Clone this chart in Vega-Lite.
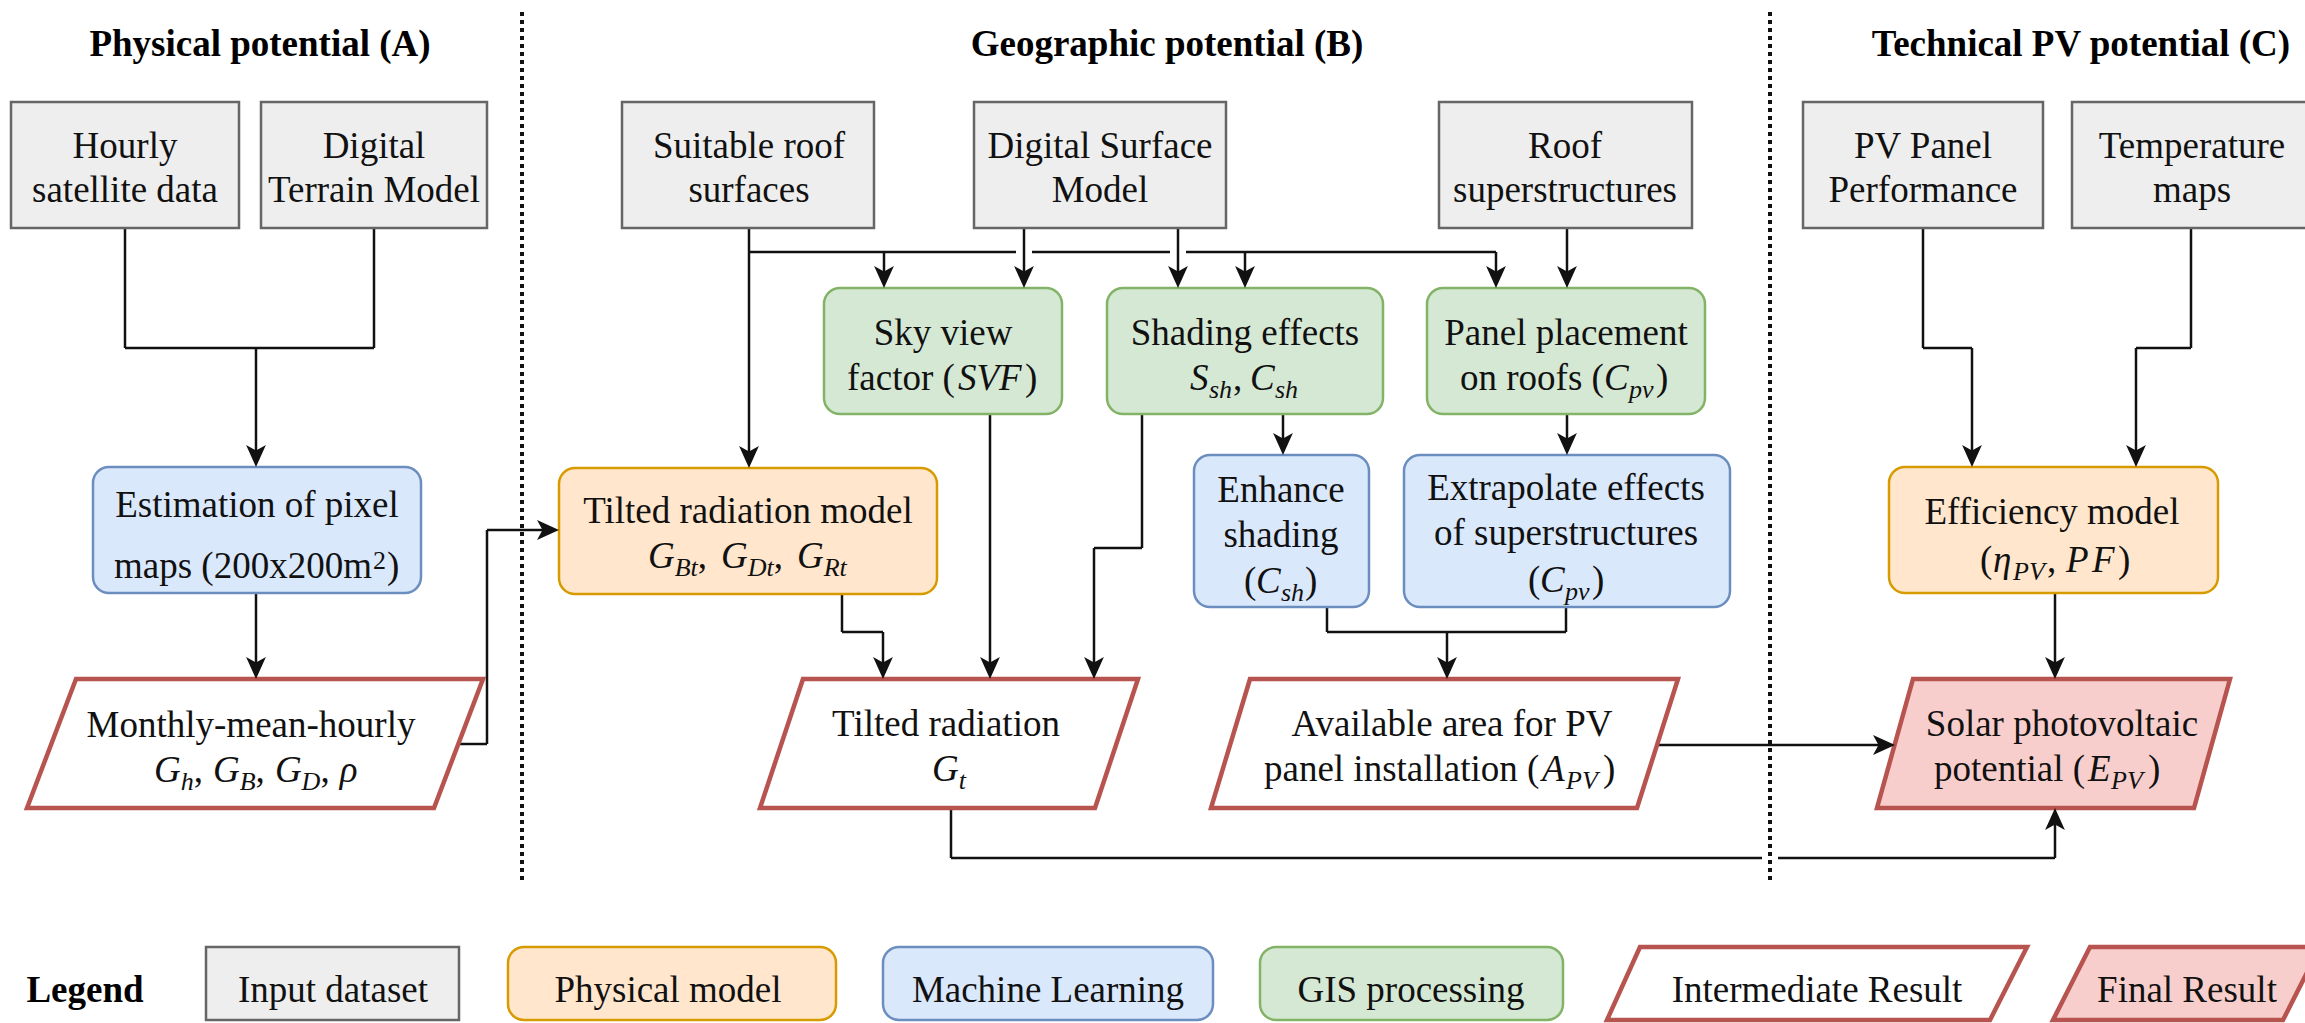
{
  "$schema": "https://vega.github.io/schema/vega-lite/v6.json",
  "width": 2305,
  "height": 1023,
  "autosize": {"type": "fit", "contains": "padding"},
  "padding": 0,
  "background": "white",
  "config": {"view": {"stroke": null}},
  "datasets": {
    "boxes": [
      {"id": "hourly", "type": "Input dataset", "x": 11, "x2": 239, "y": 102, "y2": 228},
      {"id": "dtm", "type": "Input dataset", "x": 261, "x2": 487, "y": 102, "y2": 228},
      {"id": "roofs", "type": "Input dataset", "x": 622, "x2": 874, "y": 102, "y2": 228},
      {"id": "dsm", "type": "Input dataset", "x": 974, "x2": 1226, "y": 102, "y2": 228},
      {"id": "super", "type": "Input dataset", "x": 1439, "x2": 1692, "y": 102, "y2": 228},
      {"id": "pvperf", "type": "Input dataset", "x": 1803, "x2": 2043, "y": 102, "y2": 228},
      {"id": "temp", "type": "Input dataset", "x": 2072, "x2": 2330, "y": 102, "y2": 228},
      {"id": "leg1", "type": "Input dataset", "x": 206, "x2": 459, "y": 947, "y2": 1020},
      {"id": "est", "type": "Machine Learning", "x": 93, "x2": 421, "y": 467, "y2": 593},
      {"id": "tiltmodel", "type": "Physical model", "x": 559, "x2": 937, "y": 468, "y2": 594},
      {"id": "svf", "type": "GIS processing", "x": 824, "x2": 1062, "y": 288, "y2": 414},
      {"id": "shade", "type": "GIS processing", "x": 1107, "x2": 1383, "y": 288, "y2": 414},
      {"id": "panel", "type": "GIS processing", "x": 1427, "x2": 1705, "y": 288, "y2": 414},
      {"id": "enh", "type": "Machine Learning", "x": 1194, "x2": 1369, "y": 455, "y2": 607},
      {"id": "extra", "type": "Machine Learning", "x": 1404, "x2": 1730, "y": 455, "y2": 607},
      {"id": "eff", "type": "Physical model", "x": 1889, "x2": 2218, "y": 467, "y2": 593},
      {"id": "leg2", "type": "Physical model", "x": 508, "x2": 836, "y": 947, "y2": 1020},
      {"id": "leg3", "type": "Machine Learning", "x": 883, "x2": 1213, "y": 947, "y2": 1020},
      {"id": "leg4", "type": "GIS processing", "x": 1260, "x2": 1563, "y": 947, "y2": 1020}
    ],
    "para": [
      {"id": "monthly", "type": "Intermediate Result", "y": 808, "xl": 27, "xr": 434},
      {"id": "monthly", "type": "Intermediate Result", "y": 679, "xl": 76, "xr": 483},
      {"id": "gt", "type": "Intermediate Result", "y": 808, "xl": 760, "xr": 1095},
      {"id": "gt", "type": "Intermediate Result", "y": 679, "xl": 803, "xr": 1138},
      {"id": "apv", "type": "Intermediate Result", "y": 808, "xl": 1211, "xr": 1637},
      {"id": "apv", "type": "Intermediate Result", "y": 679, "xl": 1250, "xr": 1678},
      {"id": "epv", "type": "Final Result", "y": 808, "xl": 1877, "xr": 2194},
      {"id": "epv", "type": "Final Result", "y": 679, "xl": 1913, "xr": 2230},
      {"id": "leg5", "type": "Intermediate Result", "y": 1020, "xl": 1607, "xr": 1990},
      {"id": "leg5", "type": "Intermediate Result", "y": 947, "xl": 1640, "xr": 2027},
      {"id": "leg6", "type": "Final Result", "y": 1020, "xl": 2053, "xr": 2283},
      {"id": "leg6", "type": "Final Result", "y": 947, "xl": 2090, "xr": 2320}
    ],
    "lines": [
      {"x": 125, "y": 228, "x2": 125, "y2": 348},
      {"x": 374, "y": 228, "x2": 374, "y2": 348},
      {"x": 125, "y": 348, "x2": 374, "y2": 348},
      {"x": 256, "y": 348, "x2": 256, "y2": 460},
      {"x": 256, "y": 593, "x2": 256, "y2": 672},
      {"x": 458, "y": 744, "x2": 487, "y2": 744},
      {"x": 487, "y": 744, "x2": 487, "y2": 530},
      {"x": 487, "y": 530, "x2": 552, "y2": 530},
      {"x": 749, "y": 228, "x2": 749, "y2": 460},
      {"x": 749, "y": 252, "x2": 1016, "y2": 252},
      {"x": 1032, "y": 252, "x2": 1170, "y2": 252},
      {"x": 1186, "y": 252, "x2": 1496, "y2": 252},
      {"x": 1024, "y": 228, "x2": 1024, "y2": 282},
      {"x": 1178, "y": 228, "x2": 1178, "y2": 282},
      {"x": 884, "y": 252, "x2": 884, "y2": 282},
      {"x": 1245, "y": 252, "x2": 1245, "y2": 282},
      {"x": 1496, "y": 252, "x2": 1496, "y2": 282},
      {"x": 1567, "y": 228, "x2": 1567, "y2": 282},
      {"x": 990, "y": 414, "x2": 990, "y2": 672},
      {"x": 1142, "y": 414, "x2": 1142, "y2": 548},
      {"x": 1142, "y": 548, "x2": 1094, "y2": 548},
      {"x": 1094, "y": 548, "x2": 1094, "y2": 672},
      {"x": 1283, "y": 414, "x2": 1283, "y2": 450},
      {"x": 1567, "y": 414, "x2": 1567, "y2": 450},
      {"x": 842, "y": 594, "x2": 842, "y2": 632},
      {"x": 842, "y": 632, "x2": 883, "y2": 632},
      {"x": 883, "y": 632, "x2": 883, "y2": 672},
      {"x": 1327, "y": 607, "x2": 1327, "y2": 632},
      {"x": 1566, "y": 607, "x2": 1566, "y2": 632},
      {"x": 1327, "y": 632, "x2": 1566, "y2": 632},
      {"x": 1447, "y": 632, "x2": 1447, "y2": 672},
      {"x": 1658, "y": 745, "x2": 1888, "y2": 745},
      {"x": 951, "y": 808, "x2": 951, "y2": 858},
      {"x": 951, "y": 858, "x2": 1762, "y2": 858},
      {"x": 1778, "y": 858, "x2": 2055, "y2": 858},
      {"x": 2055, "y": 858, "x2": 2055, "y2": 815},
      {"x": 1923, "y": 228, "x2": 1923, "y2": 348},
      {"x": 1923, "y": 348, "x2": 1972, "y2": 348},
      {"x": 1972, "y": 348, "x2": 1972, "y2": 460},
      {"x": 2191, "y": 228, "x2": 2191, "y2": 348},
      {"x": 2191, "y": 348, "x2": 2136, "y2": 348},
      {"x": 2136, "y": 348, "x2": 2136, "y2": 460},
      {"x": 2055, "y": 593, "x2": 2055, "y2": 672}
    ],
    "dividers": [
      {"x": 522, "y": 12, "y2": 882},
      {"x": 1770, "y": 12, "y2": 882}
    ],
    "arrows": [
      {"x": 256, "y": 467, "dir": "down"},
      {"x": 256, "y": 679, "dir": "down"},
      {"x": 749, "y": 468, "dir": "down"},
      {"x": 1024, "y": 288, "dir": "down"},
      {"x": 1178, "y": 288, "dir": "down"},
      {"x": 884, "y": 288, "dir": "down"},
      {"x": 1245, "y": 288, "dir": "down"},
      {"x": 1496, "y": 288, "dir": "down"},
      {"x": 1567, "y": 288, "dir": "down"},
      {"x": 990, "y": 679, "dir": "down"},
      {"x": 1094, "y": 679, "dir": "down"},
      {"x": 1283, "y": 455, "dir": "down"},
      {"x": 1567, "y": 455, "dir": "down"},
      {"x": 883, "y": 679, "dir": "down"},
      {"x": 1447, "y": 679, "dir": "down"},
      {"x": 1972, "y": 467, "dir": "down"},
      {"x": 2136, "y": 467, "dir": "down"},
      {"x": 2055, "y": 679, "dir": "down"},
      {"x": 559, "y": 530, "dir": "right"},
      {"x": 1895, "y": 745, "dir": "right"},
      {"x": 2055, "y": 808, "dir": "up"}
    ],
    "texts": [
      {"t": "Physical potential (A)", "x": 260, "y": 56, "k": "b"},
      {"t": "Geographic potential (B)", "x": 1167, "y": 56, "k": "b"},
      {"t": "Technical PV potential (C)", "x": 2081, "y": 56, "k": "b"},
      {"t": "Legend", "x": 85, "y": 1002, "k": "b"},
      {"t": "Hourly", "x": 125, "y": 158, "k": "c"},
      {"t": "satellite data", "x": 125, "y": 202, "k": "c"},
      {"t": "Digital", "x": 374, "y": 158, "k": "c"},
      {"t": "Terrain Model", "x": 374, "y": 202, "k": "c"},
      {"t": "Estimation of pixel", "x": 257, "y": 517, "k": "c"},
      {"t": "Monthly-mean-hourly", "x": 251, "y": 737, "k": "c"},
      {"t": "Suitable roof", "x": 749, "y": 158, "k": "c"},
      {"t": "surfaces", "x": 749, "y": 202, "k": "c"},
      {"t": "Digital Surface", "x": 1100, "y": 158, "k": "c"},
      {"t": "Model", "x": 1100, "y": 202, "k": "c"},
      {"t": "Roof", "x": 1565, "y": 158, "k": "c"},
      {"t": "superstructures", "x": 1565, "y": 202, "k": "c"},
      {"t": "Sky view", "x": 943, "y": 345, "k": "c"},
      {"t": "Shading effects", "x": 1245, "y": 345, "k": "c"},
      {"t": "Panel placement", "x": 1566, "y": 345, "k": "c"},
      {"t": "Tilted radiation model", "x": 748, "y": 523, "k": "c"},
      {"t": "Enhance", "x": 1281, "y": 502, "k": "c"},
      {"t": "shading", "x": 1281, "y": 547, "k": "c"},
      {"t": "Extrapolate effects", "x": 1566, "y": 500, "k": "c"},
      {"t": "of superstructures", "x": 1566, "y": 545, "k": "c"},
      {"t": "Tilted radiation", "x": 946, "y": 736, "k": "c"},
      {"t": "Available area for PV", "x": 1452, "y": 736, "k": "c"},
      {"t": "Solar photovoltaic", "x": 2062, "y": 736, "k": "c"},
      {"t": "Efficiency model", "x": 2052, "y": 524, "k": "c"},
      {"t": "PV Panel", "x": 1923, "y": 158, "k": "c"},
      {"t": "Performance", "x": 1923, "y": 202, "k": "c"},
      {"t": "Temperature", "x": 2192, "y": 158, "k": "c"},
      {"t": "maps", "x": 2192, "y": 202, "k": "c"},
      {"t": "Input dataset", "x": 333, "y": 1002, "k": "c"},
      {"t": "Physical model", "x": 668, "y": 1002, "k": "c"},
      {"t": "Machine Learning", "x": 1048, "y": 1002, "k": "c"},
      {"t": "GIS processing", "x": 1411, "y": 1002, "k": "c"},
      {"t": "Intermediate Result", "x": 1817, "y": 1002, "k": "c"},
      {"t": "Final Result", "x": 2187, "y": 1002, "k": "c"},
      {"t": "maps (200x200m", "x": 114, "y": 578, "k": "r"},
      {"t": "2", "x": 373, "y": 569, "k": "p"},
      {"t": ")", "x": 387, "y": 578, "k": "r"},
      {"t": "G", "x": 154, "y": 782, "k": "i"},
      {"t": "h", "x": 180.7, "y": 790, "k": "s"},
      {"t": ",", "x": 193.7, "y": 782, "k": "r"},
      {"t": "G", "x": 213, "y": 782, "k": "i"},
      {"t": "B", "x": 239.7, "y": 790, "k": "s"},
      {"t": ",", "x": 255.6, "y": 782, "k": "r"},
      {"t": "G", "x": 274.9, "y": 782, "k": "i"},
      {"t": "D", "x": 301.6, "y": 790, "k": "s"},
      {"t": ",", "x": 320.4, "y": 782, "k": "r"},
      {"t": "ρ", "x": 339.7, "y": 782, "k": "i"},
      {"t": "factor (", "x": 847, "y": 390, "k": "r"},
      {"t": "SVF", "x": 958, "y": 390, "k": "i"},
      {"t": ")", "x": 1025, "y": 390, "k": "r"},
      {"t": "S", "x": 1190, "y": 390, "k": "i"},
      {"t": "sh", "x": 1209, "y": 398, "k": "s"},
      {"t": ",", "x": 1233, "y": 390, "k": "r"},
      {"t": "C", "x": 1250, "y": 390, "k": "i"},
      {"t": "sh", "x": 1275, "y": 398, "k": "s"},
      {"t": "on roofs (", "x": 1460, "y": 390, "k": "r"},
      {"t": "C", "x": 1604, "y": 390, "k": "i"},
      {"t": "pv", "x": 1629, "y": 398, "k": "s"},
      {"t": ")", "x": 1656, "y": 390, "k": "r"},
      {"t": "(", "x": 1244, "y": 593, "k": "r"},
      {"t": "C", "x": 1256, "y": 593, "k": "i"},
      {"t": "sh", "x": 1281, "y": 601, "k": "s"},
      {"t": ")", "x": 1305, "y": 593, "k": "r"},
      {"t": "(", "x": 1528, "y": 592, "k": "r"},
      {"t": "C", "x": 1540, "y": 592, "k": "i"},
      {"t": "pv", "x": 1565, "y": 600, "k": "s"},
      {"t": ")", "x": 1592, "y": 592, "k": "r"},
      {"t": "G", "x": 648, "y": 568, "k": "i"},
      {"t": "Bt", "x": 674.7, "y": 576, "k": "s"},
      {"t": ",", "x": 697.8, "y": 568, "k": "r"},
      {"t": "G", "x": 721, "y": 568, "k": "i"},
      {"t": "Dt", "x": 747.7, "y": 576, "k": "s"},
      {"t": ",", "x": 773.7, "y": 568, "k": "r"},
      {"t": "G", "x": 797, "y": 568, "k": "i"},
      {"t": "Rt", "x": 823.7, "y": 576, "k": "s"},
      {"t": "G", "x": 932, "y": 781, "k": "i"},
      {"t": "t", "x": 958.7, "y": 789, "k": "s"},
      {"t": "panel installation (", "x": 1264, "y": 781, "k": "r"},
      {"t": "A", "x": 1542, "y": 781, "k": "i"},
      {"t": "PV", "x": 1566, "y": 789, "k": "s"},
      {"t": ")", "x": 1603, "y": 781, "k": "r"},
      {"t": "potential (", "x": 1934, "y": 781, "k": "r"},
      {"t": "E", "x": 2088, "y": 781, "k": "i"},
      {"t": "PV", "x": 2111, "y": 789, "k": "s"},
      {"t": ")", "x": 2148, "y": 781, "k": "r"},
      {"t": "(", "x": 1980, "y": 572, "k": "r"},
      {"t": "η", "x": 1993, "y": 572, "k": "i"},
      {"t": "PV", "x": 2013, "y": 580, "k": "s"},
      {"t": ",", "x": 2047, "y": 572, "k": "r"},
      {"t": "P", "x": 2066, "y": 572, "k": "i"},
      {"t": "F", "x": 2092, "y": 572, "k": "i"},
      {"t": ")", "x": 2118, "y": 572, "k": "r"}
    ]
  },
  "layer": [
    {
      "data": {"name": "dividers"},
      "mark": {"type": "rule", "color": "#111111", "strokeWidth": 4, "strokeDash": [4, 4]},
      "encoding": {
        "x": {"field": "x", "type": "quantitative", "scale": {"domain": [0, 2305], "nice": false, "zero": false}, "axis": null},
        "y": {"field": "y", "type": "quantitative", "scale": {"domain": [0, 1023], "reverse": true, "nice": false, "zero": false}, "axis": null},
        "y2": {"field": "y2"}
      }
    },
    {
      "data": {"name": "lines"},
      "mark": {"type": "rule", "color": "#111111", "strokeWidth": 2.5},
      "encoding": {
        "x": {"field": "x", "type": "quantitative", "scale": {"domain": [0, 2305], "nice": false, "zero": false}, "axis": null},
        "y": {"field": "y", "type": "quantitative", "scale": {"domain": [0, 1023], "reverse": true, "nice": false, "zero": false}, "axis": null},
        "x2": {"field": "x2"},
        "y2": {"field": "y2"}
      }
    },
    {
      "data": {"name": "boxes"},
      "transform": [{"filter": "datum.type === 'Input dataset'"}],
      "mark": {"type": "rect", "strokeWidth": 2.5, "clip": true, "opacity": 1},
      "encoding": {
        "x": {"field": "x", "type": "quantitative", "scale": {"domain": [0, 2305], "nice": false, "zero": false}, "axis": null},
        "y": {"field": "y", "type": "quantitative", "scale": {"domain": [0, 1023], "reverse": true, "nice": false, "zero": false}, "axis": null},
        "x2": {"field": "x2"},
        "y2": {"field": "y2"},
        "fill": {"field": "type", "type": "nominal", "legend": null, "scale": {"domain": ["Input dataset", "Physical model", "Machine Learning", "GIS processing", "Intermediate Result", "Final Result"], "range": ["#eeeeee", "#ffe6cc", "#dae8fc", "#d5e8d4", "#ffffff", "#f8cecc"]}},
        "stroke": {"field": "type", "type": "nominal", "legend": null, "scale": {"domain": ["Input dataset", "Physical model", "Machine Learning", "GIS processing", "Intermediate Result", "Final Result"], "range": ["#666666", "#d79b00", "#6c8ebf", "#82b366", "#b85450", "#b85450"]}}
      }
    },
    {
      "data": {"name": "boxes"},
      "transform": [{"filter": "datum.type !== 'Input dataset'"}],
      "mark": {"type": "rect", "strokeWidth": 2.5, "cornerRadius": 16, "clip": true, "opacity": 1},
      "encoding": {
        "x": {"field": "x", "type": "quantitative", "scale": {"domain": [0, 2305], "nice": false, "zero": false}, "axis": null},
        "y": {"field": "y", "type": "quantitative", "scale": {"domain": [0, 1023], "reverse": true, "nice": false, "zero": false}, "axis": null},
        "x2": {"field": "x2"},
        "y2": {"field": "y2"},
        "fill": {"field": "type", "type": "nominal", "legend": null, "scale": {"domain": ["Input dataset", "Physical model", "Machine Learning", "GIS processing", "Intermediate Result", "Final Result"], "range": ["#eeeeee", "#ffe6cc", "#dae8fc", "#d5e8d4", "#ffffff", "#f8cecc"]}},
        "stroke": {"field": "type", "type": "nominal", "legend": null, "scale": {"domain": ["Input dataset", "Physical model", "Machine Learning", "GIS processing", "Intermediate Result", "Final Result"], "range": ["#666666", "#d79b00", "#6c8ebf", "#82b366", "#b85450", "#b85450"]}}
      }
    },
    {
      "data": {"name": "para"},
      "mark": {"type": "area", "orient": "horizontal", "strokeWidth": 4.5, "clip": true, "opacity": 1, "fillOpacity": 1},
      "encoding": {
        "y": {"field": "y", "type": "quantitative", "scale": {"domain": [0, 1023], "reverse": true, "nice": false, "zero": false}, "axis": null},
        "x": {"field": "xl", "type": "quantitative", "scale": {"domain": [0, 2305], "nice": false, "zero": false}, "axis": null},
        "x2": {"field": "xr"},
        "detail": {"field": "id", "type": "nominal"},
        "fill": {"field": "type", "type": "nominal", "legend": null, "scale": {"domain": ["Input dataset", "Physical model", "Machine Learning", "GIS processing", "Intermediate Result", "Final Result"], "range": ["#eeeeee", "#ffe6cc", "#dae8fc", "#d5e8d4", "#ffffff", "#f8cecc"]}},
        "stroke": {"field": "type", "type": "nominal", "legend": null, "scale": {"domain": ["Input dataset", "Physical model", "Machine Learning", "GIS processing", "Intermediate Result", "Final Result"], "range": ["#666666", "#d79b00", "#6c8ebf", "#82b366", "#b85450", "#b85450"]}}
      }
    },
    {
      "data": {"name": "arrows"},
      "transform": [{"filter": "datum.dir === 'down'"}],
      "mark": {"type": "point", "shape": "M0,0L-0.9,-2L0,-1.5L0.9,-2Z", "size": 484, "filled": true, "color": "#111111", "opacity": 1, "strokeWidth": 0},
      "encoding": {
        "x": {"field": "x", "type": "quantitative", "scale": {"domain": [0, 2305], "nice": false, "zero": false}, "axis": null},
        "y": {"field": "y", "type": "quantitative", "scale": {"domain": [0, 1023], "reverse": true, "nice": false, "zero": false}, "axis": null}
      }
    },
    {
      "data": {"name": "arrows"},
      "transform": [{"filter": "datum.dir === 'up'"}],
      "mark": {"type": "point", "shape": "M0,0L-0.9,2L0,1.5L0.9,2Z", "size": 484, "filled": true, "color": "#111111", "opacity": 1, "strokeWidth": 0},
      "encoding": {
        "x": {"field": "x", "type": "quantitative", "scale": {"domain": [0, 2305], "nice": false, "zero": false}, "axis": null},
        "y": {"field": "y", "type": "quantitative", "scale": {"domain": [0, 1023], "reverse": true, "nice": false, "zero": false}, "axis": null}
      }
    },
    {
      "data": {"name": "arrows"},
      "transform": [{"filter": "datum.dir === 'right'"}],
      "mark": {"type": "point", "shape": "M0,0L-2,-0.9L-1.5,0L-2,0.9Z", "size": 484, "filled": true, "color": "#111111", "opacity": 1, "strokeWidth": 0},
      "encoding": {
        "x": {"field": "x", "type": "quantitative", "scale": {"domain": [0, 2305], "nice": false, "zero": false}, "axis": null},
        "y": {"field": "y", "type": "quantitative", "scale": {"domain": [0, 1023], "reverse": true, "nice": false, "zero": false}, "axis": null}
      }
    },
    {
      "data": {"name": "texts"},
      "transform": [{"filter": "datum.k === 'c'"}],
      "mark": {"type": "text", "font": "'Liberation Serif', 'Times New Roman', Times, serif", "fontSize": 37, "align": "center", "baseline": "alphabetic", "color": "#111111"},
      "encoding": {
        "x": {"field": "x", "type": "quantitative", "scale": {"domain": [0, 2305], "nice": false, "zero": false}, "axis": null},
        "y": {"field": "y", "type": "quantitative", "scale": {"domain": [0, 1023], "reverse": true, "nice": false, "zero": false}, "axis": null},
        "text": {"field": "t"}
      }
    },
    {
      "data": {"name": "texts"},
      "transform": [{"filter": "datum.k === 'b'"}],
      "mark": {"type": "text", "font": "'Liberation Serif', 'Times New Roman', Times, serif", "fontSize": 37, "fontWeight": "bold", "align": "center", "baseline": "alphabetic", "color": "#000000"},
      "encoding": {
        "x": {"field": "x", "type": "quantitative", "scale": {"domain": [0, 2305], "nice": false, "zero": false}, "axis": null},
        "y": {"field": "y", "type": "quantitative", "scale": {"domain": [0, 1023], "reverse": true, "nice": false, "zero": false}, "axis": null},
        "text": {"field": "t"}
      }
    },
    {
      "data": {"name": "texts"},
      "transform": [{"filter": "datum.k === 'r'"}],
      "mark": {"type": "text", "font": "'Liberation Serif', 'Times New Roman', Times, serif", "fontSize": 37, "align": "left", "baseline": "alphabetic", "color": "#111111"},
      "encoding": {
        "x": {"field": "x", "type": "quantitative", "scale": {"domain": [0, 2305], "nice": false, "zero": false}, "axis": null},
        "y": {"field": "y", "type": "quantitative", "scale": {"domain": [0, 1023], "reverse": true, "nice": false, "zero": false}, "axis": null},
        "text": {"field": "t"}
      }
    },
    {
      "data": {"name": "texts"},
      "transform": [{"filter": "datum.k === 'i'"}],
      "mark": {"type": "text", "font": "'Liberation Serif', 'Times New Roman', Times, serif", "fontSize": 37, "fontStyle": "italic", "align": "left", "baseline": "alphabetic", "color": "#111111"},
      "encoding": {
        "x": {"field": "x", "type": "quantitative", "scale": {"domain": [0, 2305], "nice": false, "zero": false}, "axis": null},
        "y": {"field": "y", "type": "quantitative", "scale": {"domain": [0, 1023], "reverse": true, "nice": false, "zero": false}, "axis": null},
        "text": {"field": "t"}
      }
    },
    {
      "data": {"name": "texts"},
      "transform": [{"filter": "datum.k === 's'"}],
      "mark": {"type": "text", "font": "'Liberation Serif', 'Times New Roman', Times, serif", "fontSize": 26, "fontStyle": "italic", "align": "left", "baseline": "alphabetic", "color": "#111111"},
      "encoding": {
        "x": {"field": "x", "type": "quantitative", "scale": {"domain": [0, 2305], "nice": false, "zero": false}, "axis": null},
        "y": {"field": "y", "type": "quantitative", "scale": {"domain": [0, 1023], "reverse": true, "nice": false, "zero": false}, "axis": null},
        "text": {"field": "t"}
      }
    },
    {
      "data": {"name": "texts"},
      "transform": [{"filter": "datum.k === 'p'"}],
      "mark": {"type": "text", "font": "'Liberation Serif', 'Times New Roman', Times, serif", "fontSize": 26, "align": "left", "baseline": "alphabetic", "color": "#111111"},
      "encoding": {
        "x": {"field": "x", "type": "quantitative", "scale": {"domain": [0, 2305], "nice": false, "zero": false}, "axis": null},
        "y": {"field": "y", "type": "quantitative", "scale": {"domain": [0, 1023], "reverse": true, "nice": false, "zero": false}, "axis": null},
        "text": {"field": "t"}
      }
    }
  ]
}
